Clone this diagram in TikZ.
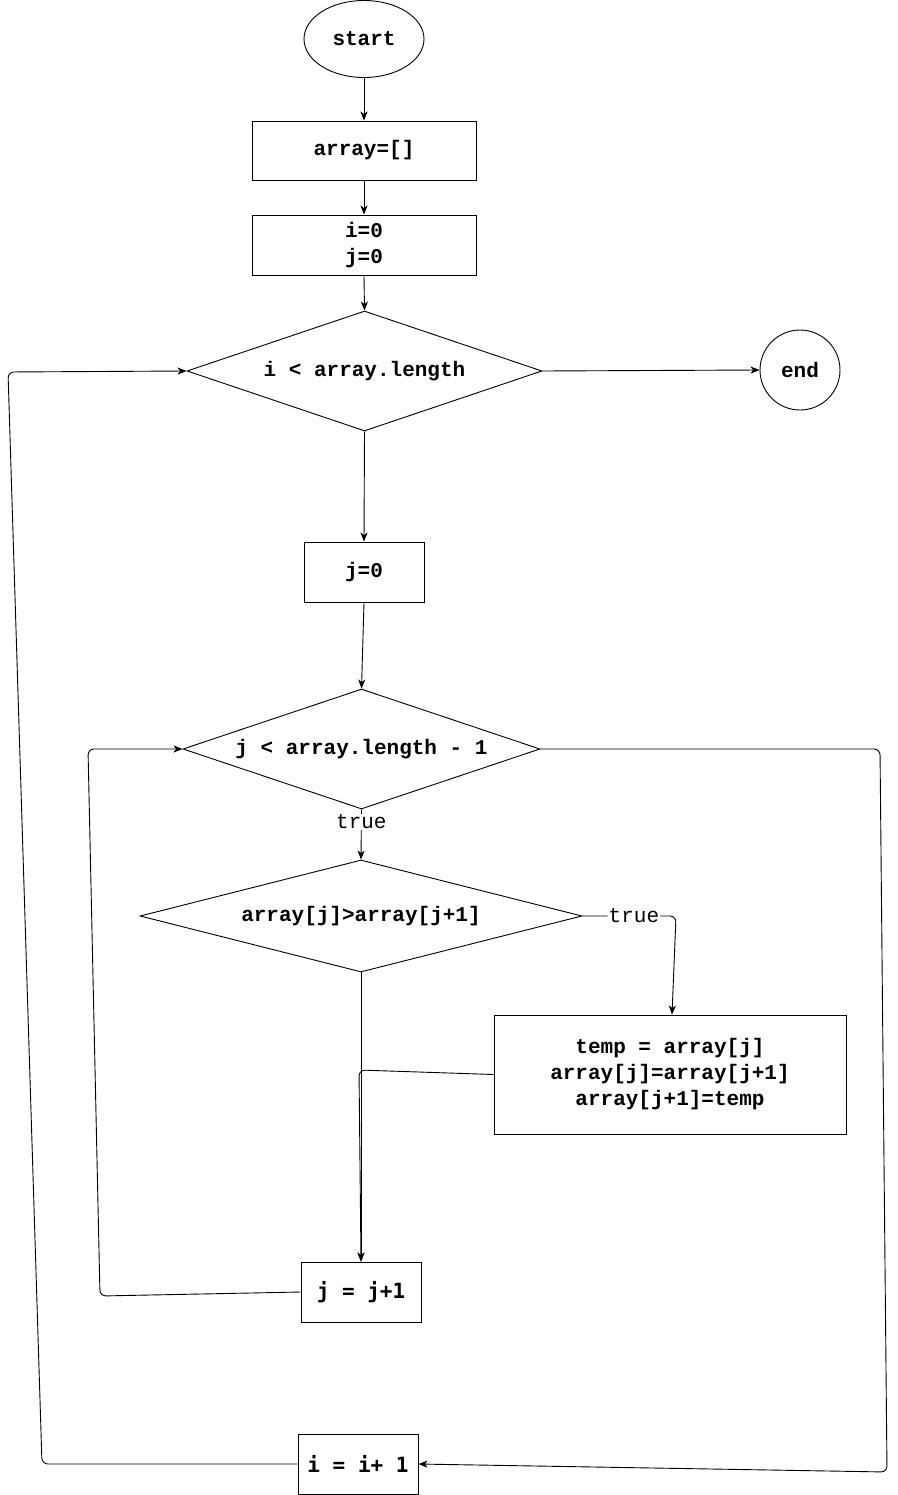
\documentclass[tikz,border=0pt]{standalone}
\usepackage{fontspec}
\usetikzlibrary{shapes.geometric,arrows.meta,calc}
\newfontfamily\courfont{Liberation Mono}
\newfontfamily\dvmfont{DejaVu Sans Mono}
\begin{document}
\begin{tikzpicture}[x=1pt,y=-1pt,
  every node/.style={inner sep=0pt, font=\courfont\bfseries\fontsize{21}{26}\selectfont, align=center},
  box/.style={draw, line width=0.9pt, rectangle},
  decision/.style={draw, line width=0.9pt, diamond, aspect=3},
  flow/.style={draw, line width=0.9pt, -{Stealth[length=9pt,width=7pt,inset=2.5pt]}},
  elbow/.style={flow, rounded corners=6pt},
  lbl/.style={fill=white, inner sep=1pt, font=\courfont\fontsize{21}{26}\selectfont}
]
\useasboundingbox (0,0) rectangle (897,1495);

% nodes
\node[draw, line width=0.9pt, ellipse, minimum width=120pt, minimum height=77pt] (start) at (364,39) {start};
\node[box, minimum width=224pt, minimum height=59pt] (arr) at (364,150.5) {array=[]};
\node[box, minimum width=224pt, minimum height=60pt] (ij) at (364,245) {i=0\\j=0};
\node[decision, minimum width=355pt, minimum height=120pt] (d1) at (364.5,371) {i < array.length};
\node[draw, line width=0.9pt, circle, minimum size=80pt] (end) at (800,370) {end};
\node[box, minimum width=120pt, minimum height=60pt] (j0) at (364,572) {j=0};
\node[decision, minimum width=357pt, minimum height=120pt] (d2) at (361.5,749) {j < array.length - 1};
\node[decision, minimum width=442pt, minimum height=112pt] (d3) at (361,916) {array[j]>array[j+1]};
\node[box, minimum width=352pt, minimum height=119pt] (temp) at (670,1074.5) {temp = array[j]\\array[j]=array[j+1]\\array[j+1]=temp};
\node[box, minimum width=120pt, minimum height=60pt, font=\dvmfont\bfseries\fontsize{21}{26}\selectfont] (jinc) at (361,1292) {j = j+1};
\node[box, minimum width=120pt, minimum height=60pt, font=\dvmfont\bfseries\fontsize{21}{26}\selectfont] (iinc) at (358,1464) {i = i+ 1};

% bend points of the loop lines
\coordinate (tc) at (676,916);
\coordinate (tb) at ($(temp.north)+(2,0)$);
\coordinate (mc) at (359,1070);
\coordinate (jl1) at (100,1296);
\coordinate (jl2) at (88,749);
\coordinate (ir1) at (880,749);
\coordinate (ir2) at (887,1472);
\coordinate (il1) at (42,1464);
\coordinate (il2) at (8,372);

% connectors
\draw[flow] (start.south) -- (arr.north);
\draw[flow] (arr.south) -- (ij.north);
\draw[flow] (ij.south) -- (d1.north);
\draw[flow] (d1.east) -- (end.west);
\draw[flow] (d1.south) -- (j0.north);
\draw[flow] (j0.south) -- (d2.north);
\draw[flow] (d2.south) -- node[lbl, pos=0.25] {true} (d3.north);
\draw[elbow] (d3.east) -- node[lbl, pos=0.55] {true} (tc) -- (tb);
\draw[flow] (d3.south) -- (jinc.north);
\draw[elbow] (temp.west) -- (mc) -- (jinc.north);
\draw[elbow] (jinc.west) -- (jl1) -- (jl2) -- (d2.west);
\draw[elbow] (d2.east) -- (ir1) -- (ir2) -- (iinc.east);
\draw[elbow] (iinc.west) -- (il1) -- (il2) -- (d1.west);
\end{tikzpicture}
\end{document}
